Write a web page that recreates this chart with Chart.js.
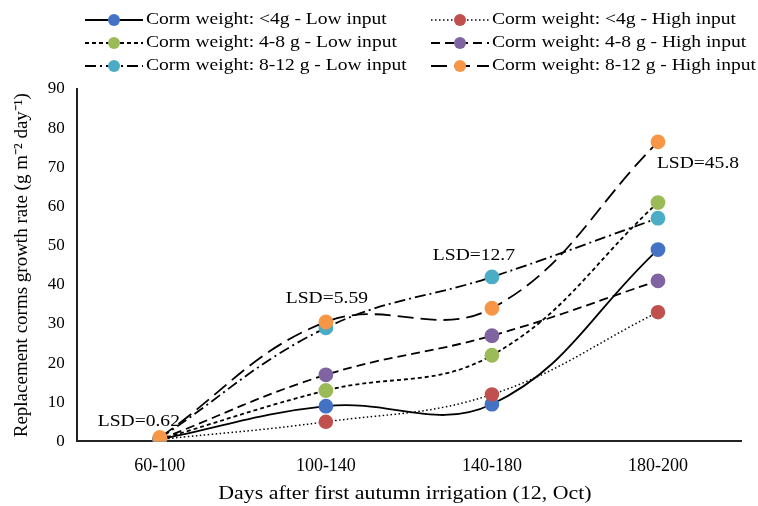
<!DOCTYPE html>
<html>
<head>
<meta charset="utf-8">
<script src="https://cdn.jsdelivr.net/npm/chart.js@4.4.0/dist/chart.umd.min.js"></script>
<style>
  html, body { margin: 0; padding: 0; background: #fff; }
  #wrap { width: 758px; height: 506px; }
</style>
</head>
<body>
<div id="wrap"><canvas id="c" width="758" height="506"></canvas></div>
<script>
// categories and values
const periods = ['60-100', '100-140', '140-180', '180-200'];
const yTicks = [0, 10, 20, 30, 40, 50, 60, 70, 80, 90];

const lowSmall  = [0.5, 9, 9.5, 49];    // <4g low input
const highSmall = [0.5, 5, 12, 33];     // <4g high input
const lowMid    = [0.5, 13, 22, 61];    // 4-8 g low input
const highMid   = [0.5, 17, 27, 41];    // 4-8 g high input
const lowLarge  = [0.8, 29, 42, 57];    // 8-12 g low input
const highLarge = [1, 30.5, 34, 76.5];  // 8-12 g high input

const seriesNames = [
  'Corm weight: <4g - Low input',
  'Corm weight: <4g - High input',
  'Corm weight: 4-8 g - Low input',
  'Corm weight: 4-8 g - High input',
  'Corm weight: 8-12 g - Low input',
  'Corm weight: 8-12 g - High input'
];

// LSD labels and the value height they sit at
const lsdText = ['LSD=0.62', 'LSD=5.59', 'LSD=12.7', 'LSD=45.8'];
const lsdAt = [5, 36.5, 47.5, 71];

const xTitle = 'Days after first autumn irrigation (12, Oct)';

const colors = ['#4472C4', '#C0504D', '#9BBB59', '#8064A2', '#4BACC6', '#F79646'];
const dashes = [[], [1.5, 2.5], [4, 3], [9, 5], [11, 4, 2, 4], [16, 7]];
const values = [lowSmall, highSmall, lowMid, highMid, lowLarge, highLarge];

const FONT = '"Liberation Serif", "Times New Roman", serif';
const STRETCH = 1.15; // the source text is a little wider than plain Times

function wideText(ctx, text, x, y, align) {
  ctx.save();
  ctx.translate(x, y);
  ctx.scale(STRETCH, 1);
  ctx.textAlign = align;
  ctx.fillText(text, 0, 0);
  ctx.restore();
}

const datasets = values.map((v, i) => ({
  label: seriesNames[i],
  data: v,
  borderColor: '#000',
  borderWidth: i === 1 ? 1.5 : 1.8,
  borderDash: dashes[i],
  pointBackgroundColor: colors[i],
  pointBorderColor: colors[i],
  pointRadius: 6.5,
  pointHoverRadius: 6.5,
  tension: 0.4,
  fill: false,
  order: 5 - i
}));

// draws the line-style legend at the top, the LSD notes and the x title
const extras = {
  id: 'extras',
  afterDraw(chart) {
    const ctx = chart.ctx;
    const xs = chart.scales.x, ys = chart.scales.y;
    ctx.save();
    ctx.font = '17px ' + FONT;
    ctx.fillStyle = '#000';
    ctx.textBaseline = 'middle';
    const colX = [85, 431];
    const rowY = [20, 43, 66];
    seriesNames.forEach((name, i) => {
      const x0 = colX[i % 2], y = rowY[Math.floor(i / 2)];
      ctx.strokeStyle = '#000';
      ctx.lineWidth = i === 1 ? 1.5 : 1.8;
      ctx.setLineDash(dashes[i]);
      ctx.beginPath();
      ctx.moveTo(x0, y);
      ctx.lineTo(x0 + 58, y);
      ctx.stroke();
      ctx.setLineDash([]);
      ctx.fillStyle = colors[i];
      ctx.beginPath();
      ctx.arc(x0 + 29, y, 6, 0, Math.PI * 2);
      ctx.fill();
      ctx.fillStyle = '#000';
      wideText(ctx, name, x0 + 61, y, 'left');
    });
    const offs = [-21, 1, -18, 40];
    lsdText.forEach((t, i) => {
      wideText(ctx, t, xs.getPixelForValue(i) + offs[i], ys.getPixelForValue(lsdAt[i]), 'center');
    });
    ctx.font = '19px ' + FONT;
    wideText(ctx, xTitle, (chart.chartArea.left + chart.chartArea.right) / 2 - 4, chart.chartArea.bottom + 53, 'center');
    ctx.restore();
  }
};

new Chart(document.getElementById('c'), {
  type: 'line',
  data: { labels: periods, datasets: datasets },
  options: {
    responsive: false,
    animation: false,
    layout: { padding: { top: 89, right: 17, left: 7, bottom: 15 } },
    plugins: { legend: { display: false }, tooltip: { enabled: false } },
    scales: {
      x: {
        offset: true,
        grid: { display: false, drawTicks: false },
        border: { color: '#222', width: 2 },
        ticks: { font: { family: FONT, size: 18 }, color: '#000', padding: 14 }
      },
      y: {
        min: 0,
        max: 90,
        afterBuildTicks: s => { s.ticks = yTicks.map(v => ({ value: v })); },
        grid: { display: false, drawTicks: false },
        border: { color: '#222', width: 2 },
        ticks: { font: { family: FONT, size: 17 }, color: '#000', padding: 12 },
        title: {
          display: true,
          text: 'Replacement corms growth rate (g m\u207B\u00B2 day\u207B\u00B9)',
          font: { family: FONT, size: 19 },
          color: '#000',
          padding: { bottom: 2 }
        }
      }
    }
  },
  plugins: [extras]
});
</script>
</body>
</html>
